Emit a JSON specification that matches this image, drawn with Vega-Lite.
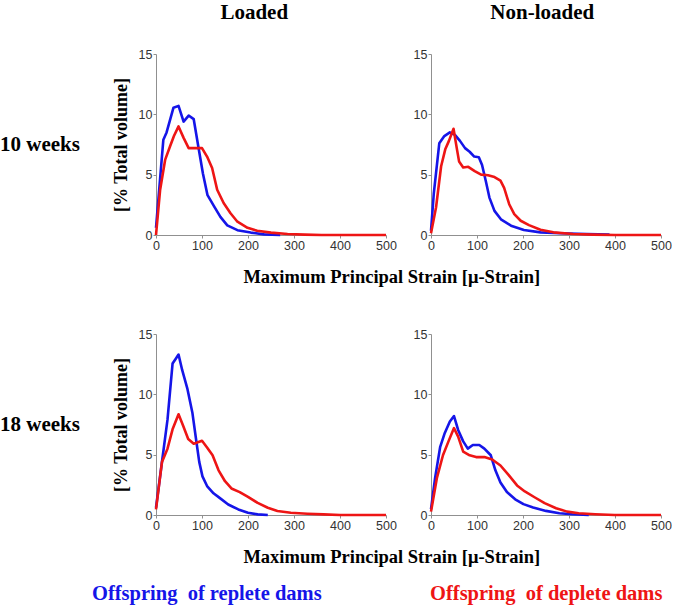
{
"$schema": "https://vega.github.io/schema/vega-lite/v6.json",
"padding": {"left": 0, "top": 2, "right": 0, "bottom": 0},
"background": "white",
"config": {
  "view": {"stroke": null},
  "axis": {"grid": false, "domainColor": "#909090", "domainWidth": 1, "tickColor": "#909090", "tickSize": 3, "labelColor": "#333333", "labelFont": "Liberation Sans", "labelFontSize": 12.5, "labelPadding": 1, "labelFlush": false, "labelOverlap": false, "titleFont": "Liberation Serif", "titleFontWeight": "bold", "titleFontSize": 18, "titleColor": "#000000", "titlePadding": 8},
  "title": {"font": "Liberation Serif", "fontWeight": "bold", "color": "#000000", "fontSize": 21},
  "line": {"strokeWidth": 2.6, "strokeJoin": "round"}
},
"datasets": {
  "curves": [
    {"age":"10 weeks","cond":"Loaded","group":"replete","strain":0,"vol":0.6},
    {"age":"10 weeks","cond":"Loaded","group":"replete","strain":16,"vol":7.9},
    {"age":"10 weeks","cond":"Loaded","group":"replete","strain":23,"vol":8.5},
    {"age":"10 weeks","cond":"Loaded","group":"replete","strain":38,"vol":10.55},
    {"age":"10 weeks","cond":"Loaded","group":"replete","strain":49,"vol":10.7},
    {"age":"10 weeks","cond":"Loaded","group":"replete","strain":60,"vol":9.4},
    {"age":"10 weeks","cond":"Loaded","group":"replete","strain":71,"vol":9.9},
    {"age":"10 weeks","cond":"Loaded","group":"replete","strain":82,"vol":9.6},
    {"age":"10 weeks","cond":"Loaded","group":"replete","strain":93,"vol":7.1},
    {"age":"10 weeks","cond":"Loaded","group":"replete","strain":102,"vol":5.1},
    {"age":"10 weeks","cond":"Loaded","group":"replete","strain":112,"vol":3.3},
    {"age":"10 weeks","cond":"Loaded","group":"replete","strain":126,"vol":2.4},
    {"age":"10 weeks","cond":"Loaded","group":"replete","strain":140,"vol":1.5},
    {"age":"10 weeks","cond":"Loaded","group":"replete","strain":155,"vol":0.8},
    {"age":"10 weeks","cond":"Loaded","group":"replete","strain":177,"vol":0.4},
    {"age":"10 weeks","cond":"Loaded","group":"replete","strain":206,"vol":0.2},
    {"age":"10 weeks","cond":"Loaded","group":"replete","strain":235,"vol":0.05},
    {"age":"10 weeks","cond":"Loaded","group":"replete","strain":270,"vol":0},
    {"age":"10 weeks","cond":"Loaded","group":"deplete","strain":0,"vol":0},
    {"age":"10 weeks","cond":"Loaded","group":"deplete","strain":9,"vol":3.75},
    {"age":"10 weeks","cond":"Loaded","group":"deplete","strain":20,"vol":6.25},
    {"age":"10 weeks","cond":"Loaded","group":"deplete","strain":31,"vol":7.4},
    {"age":"10 weeks","cond":"Loaded","group":"deplete","strain":39,"vol":8.2},
    {"age":"10 weeks","cond":"Loaded","group":"deplete","strain":49,"vol":9.0},
    {"age":"10 weeks","cond":"Loaded","group":"deplete","strain":60,"vol":8.05},
    {"age":"10 weeks","cond":"Loaded","group":"deplete","strain":71,"vol":7.2},
    {"age":"10 weeks","cond":"Loaded","group":"deplete","strain":85,"vol":7.2},
    {"age":"10 weeks","cond":"Loaded","group":"deplete","strain":100,"vol":7.2},
    {"age":"10 weeks","cond":"Loaded","group":"deplete","strain":111,"vol":6.5},
    {"age":"10 weeks","cond":"Loaded","group":"deplete","strain":122,"vol":5.55},
    {"age":"10 weeks","cond":"Loaded","group":"deplete","strain":133,"vol":3.75},
    {"age":"10 weeks","cond":"Loaded","group":"deplete","strain":147,"vol":2.65},
    {"age":"10 weeks","cond":"Loaded","group":"deplete","strain":162,"vol":1.8},
    {"age":"10 weeks","cond":"Loaded","group":"deplete","strain":177,"vol":1.1},
    {"age":"10 weeks","cond":"Loaded","group":"deplete","strain":199,"vol":0.6},
    {"age":"10 weeks","cond":"Loaded","group":"deplete","strain":220,"vol":0.35},
    {"age":"10 weeks","cond":"Loaded","group":"deplete","strain":250,"vol":0.2},
    {"age":"10 weeks","cond":"Loaded","group":"deplete","strain":286,"vol":0.08},
    {"age":"10 weeks","cond":"Loaded","group":"deplete","strain":323,"vol":0.03},
    {"age":"10 weeks","cond":"Loaded","group":"deplete","strain":360,"vol":0},
    {"age":"10 weeks","cond":"Loaded","group":"deplete","strain":500,"vol":0},
    {"age":"10 weeks","cond":"Non-loaded","group":"replete","strain":0,"vol":0.35},
    {"age":"10 weeks","cond":"Non-loaded","group":"replete","strain":6,"vol":3.4},
    {"age":"10 weeks","cond":"Non-loaded","group":"replete","strain":18,"vol":7.6},
    {"age":"10 weeks","cond":"Non-loaded","group":"replete","strain":29,"vol":8.2},
    {"age":"10 weeks","cond":"Non-loaded","group":"replete","strain":41,"vol":8.5},
    {"age":"10 weeks","cond":"Non-loaded","group":"replete","strain":52,"vol":8.3},
    {"age":"10 weeks","cond":"Non-loaded","group":"replete","strain":63,"vol":7.8},
    {"age":"10 weeks","cond":"Non-loaded","group":"replete","strain":74,"vol":7.2},
    {"age":"10 weeks","cond":"Non-loaded","group":"replete","strain":84,"vol":6.9},
    {"age":"10 weeks","cond":"Non-loaded","group":"replete","strain":94,"vol":6.5},
    {"age":"10 weeks","cond":"Non-loaded","group":"replete","strain":104,"vol":6.45},
    {"age":"10 weeks","cond":"Non-loaded","group":"replete","strain":111,"vol":5.8},
    {"age":"10 weeks","cond":"Non-loaded","group":"replete","strain":119,"vol":4.5},
    {"age":"10 weeks","cond":"Non-loaded","group":"replete","strain":127,"vol":3.1},
    {"age":"10 weeks","cond":"Non-loaded","group":"replete","strain":138,"vol":2.0},
    {"age":"10 weeks","cond":"Non-loaded","group":"replete","strain":152,"vol":1.3},
    {"age":"10 weeks","cond":"Non-loaded","group":"replete","strain":174,"vol":0.77},
    {"age":"10 weeks","cond":"Non-loaded","group":"replete","strain":202,"vol":0.41},
    {"age":"10 weeks","cond":"Non-loaded","group":"replete","strain":238,"vol":0.22},
    {"age":"10 weeks","cond":"Non-loaded","group":"replete","strain":281,"vol":0.14},
    {"age":"10 weeks","cond":"Non-loaded","group":"replete","strain":338,"vol":0.08},
    {"age":"10 weeks","cond":"Non-loaded","group":"replete","strain":388,"vol":0.03},
    {"age":"10 weeks","cond":"Non-loaded","group":"deplete","strain":0,"vol":0.14},
    {"age":"10 weeks","cond":"Non-loaded","group":"deplete","strain":11,"vol":2.3},
    {"age":"10 weeks","cond":"Non-loaded","group":"deplete","strain":22,"vol":5.7},
    {"age":"10 weeks","cond":"Non-loaded","group":"deplete","strain":31,"vol":7.1},
    {"age":"10 weeks","cond":"Non-loaded","group":"deplete","strain":39,"vol":7.8},
    {"age":"10 weeks","cond":"Non-loaded","group":"deplete","strain":49,"vol":8.8},
    {"age":"10 weeks","cond":"Non-loaded","group":"deplete","strain":56,"vol":7.2},
    {"age":"10 weeks","cond":"Non-loaded","group":"deplete","strain":61,"vol":6.1},
    {"age":"10 weeks","cond":"Non-loaded","group":"deplete","strain":70,"vol":5.6},
    {"age":"10 weeks","cond":"Non-loaded","group":"deplete","strain":81,"vol":5.65},
    {"age":"10 weeks","cond":"Non-loaded","group":"deplete","strain":95,"vol":5.3},
    {"age":"10 weeks","cond":"Non-loaded","group":"deplete","strain":109,"vol":5.0},
    {"age":"10 weeks","cond":"Non-loaded","group":"deplete","strain":124,"vol":4.95},
    {"age":"10 weeks","cond":"Non-loaded","group":"deplete","strain":138,"vol":4.8},
    {"age":"10 weeks","cond":"Non-loaded","group":"deplete","strain":151,"vol":4.5},
    {"age":"10 weeks","cond":"Non-loaded","group":"deplete","strain":159,"vol":3.9},
    {"age":"10 weeks","cond":"Non-loaded","group":"deplete","strain":170,"vol":2.55},
    {"age":"10 weeks","cond":"Non-loaded","group":"deplete","strain":181,"vol":1.73},
    {"age":"10 weeks","cond":"Non-loaded","group":"deplete","strain":195,"vol":1.18},
    {"age":"10 weeks","cond":"Non-loaded","group":"deplete","strain":213,"vol":0.82},
    {"age":"10 weeks","cond":"Non-loaded","group":"deplete","strain":238,"vol":0.44},
    {"age":"10 weeks","cond":"Non-loaded","group":"deplete","strain":266,"vol":0.22},
    {"age":"10 weeks","cond":"Non-loaded","group":"deplete","strain":309,"vol":0.08},
    {"age":"10 weeks","cond":"Non-loaded","group":"deplete","strain":352,"vol":0.03},
    {"age":"10 weeks","cond":"Non-loaded","group":"deplete","strain":400,"vol":0},
    {"age":"10 weeks","cond":"Non-loaded","group":"deplete","strain":500,"vol":0},
    {"age":"18 weeks","cond":"Loaded","group":"replete","strain":0,"vol":0.6},
    {"age":"18 weeks","cond":"Loaded","group":"replete","strain":14,"vol":4.7},
    {"age":"18 weeks","cond":"Loaded","group":"replete","strain":25,"vol":7.9},
    {"age":"18 weeks","cond":"Loaded","group":"replete","strain":36,"vol":12.55},
    {"age":"18 weeks","cond":"Loaded","group":"replete","strain":43,"vol":12.95},
    {"age":"18 weeks","cond":"Loaded","group":"replete","strain":49,"vol":13.3},
    {"age":"18 weeks","cond":"Loaded","group":"replete","strain":57,"vol":12.0},
    {"age":"18 weeks","cond":"Loaded","group":"replete","strain":68,"vol":10.5},
    {"age":"18 weeks","cond":"Loaded","group":"replete","strain":79,"vol":8.5},
    {"age":"18 weeks","cond":"Loaded","group":"replete","strain":87,"vol":6.3},
    {"age":"18 weeks","cond":"Loaded","group":"replete","strain":94,"vol":4.4},
    {"age":"18 weeks","cond":"Loaded","group":"replete","strain":101,"vol":3.2},
    {"age":"18 weeks","cond":"Loaded","group":"replete","strain":111,"vol":2.4},
    {"age":"18 weeks","cond":"Loaded","group":"replete","strain":125,"vol":1.8},
    {"age":"18 weeks","cond":"Loaded","group":"replete","strain":139,"vol":1.4},
    {"age":"18 weeks","cond":"Loaded","group":"replete","strain":157,"vol":0.87},
    {"age":"18 weeks","cond":"Loaded","group":"replete","strain":179,"vol":0.46},
    {"age":"18 weeks","cond":"Loaded","group":"replete","strain":200,"vol":0.19},
    {"age":"18 weeks","cond":"Loaded","group":"replete","strain":221,"vol":0.05},
    {"age":"18 weeks","cond":"Loaded","group":"replete","strain":243,"vol":0},
    {"age":"18 weeks","cond":"Loaded","group":"deplete","strain":0,"vol":0.46},
    {"age":"18 weeks","cond":"Loaded","group":"deplete","strain":13,"vol":4.4},
    {"age":"18 weeks","cond":"Loaded","group":"deplete","strain":25,"vol":5.5},
    {"age":"18 weeks","cond":"Loaded","group":"deplete","strain":36,"vol":7.1},
    {"age":"18 weeks","cond":"Loaded","group":"deplete","strain":49,"vol":8.35},
    {"age":"18 weeks","cond":"Loaded","group":"deplete","strain":59,"vol":7.4},
    {"age":"18 weeks","cond":"Loaded","group":"deplete","strain":70,"vol":6.3},
    {"age":"18 weeks","cond":"Loaded","group":"deplete","strain":82,"vol":5.9},
    {"age":"18 weeks","cond":"Loaded","group":"deplete","strain":100,"vol":6.15},
    {"age":"18 weeks","cond":"Loaded","group":"deplete","strain":111,"vol":5.6},
    {"age":"18 weeks","cond":"Loaded","group":"deplete","strain":123,"vol":4.95},
    {"age":"18 weeks","cond":"Loaded","group":"deplete","strain":136,"vol":3.7},
    {"age":"18 weeks","cond":"Loaded","group":"deplete","strain":150,"vol":2.8},
    {"age":"18 weeks","cond":"Loaded","group":"deplete","strain":164,"vol":2.2},
    {"age":"18 weeks","cond":"Loaded","group":"deplete","strain":182,"vol":1.9},
    {"age":"18 weeks","cond":"Loaded","group":"deplete","strain":200,"vol":1.5},
    {"age":"18 weeks","cond":"Loaded","group":"deplete","strain":221,"vol":1.0},
    {"age":"18 weeks","cond":"Loaded","group":"deplete","strain":243,"vol":0.6},
    {"age":"18 weeks","cond":"Loaded","group":"deplete","strain":264,"vol":0.33},
    {"age":"18 weeks","cond":"Loaded","group":"deplete","strain":293,"vol":0.19},
    {"age":"18 weeks","cond":"Loaded","group":"deplete","strain":329,"vol":0.11},
    {"age":"18 weeks","cond":"Loaded","group":"deplete","strain":364,"vol":0.05},
    {"age":"18 weeks","cond":"Loaded","group":"deplete","strain":400,"vol":0},
    {"age":"18 weeks","cond":"Loaded","group":"deplete","strain":500,"vol":0},
    {"age":"18 weeks","cond":"Non-loaded","group":"replete","strain":0,"vol":0.48},
    {"age":"18 weeks","cond":"Non-loaded","group":"replete","strain":9,"vol":3.1},
    {"age":"18 weeks","cond":"Non-loaded","group":"replete","strain":20,"vol":5.65},
    {"age":"18 weeks","cond":"Non-loaded","group":"replete","strain":30,"vol":6.8},
    {"age":"18 weeks","cond":"Non-loaded","group":"replete","strain":41,"vol":7.75},
    {"age":"18 weeks","cond":"Non-loaded","group":"replete","strain":50,"vol":8.2},
    {"age":"18 weeks","cond":"Non-loaded","group":"replete","strain":59,"vol":7.05},
    {"age":"18 weeks","cond":"Non-loaded","group":"replete","strain":70,"vol":6.1},
    {"age":"18 weeks","cond":"Non-loaded","group":"replete","strain":80,"vol":5.5},
    {"age":"18 weeks","cond":"Non-loaded","group":"replete","strain":91,"vol":5.8},
    {"age":"18 weeks","cond":"Non-loaded","group":"replete","strain":105,"vol":5.8},
    {"age":"18 weeks","cond":"Non-loaded","group":"replete","strain":116,"vol":5.5},
    {"age":"18 weeks","cond":"Non-loaded","group":"replete","strain":130,"vol":4.95},
    {"age":"18 weeks","cond":"Non-loaded","group":"replete","strain":140,"vol":3.7},
    {"age":"18 weeks","cond":"Non-loaded","group":"replete","strain":151,"vol":2.7},
    {"age":"18 weeks","cond":"Non-loaded","group":"replete","strain":165,"vol":1.9},
    {"age":"18 weeks","cond":"Non-loaded","group":"replete","strain":183,"vol":1.3},
    {"age":"18 weeks","cond":"Non-loaded","group":"replete","strain":201,"vol":0.9},
    {"age":"18 weeks","cond":"Non-loaded","group":"replete","strain":222,"vol":0.62},
    {"age":"18 weeks","cond":"Non-loaded","group":"replete","strain":250,"vol":0.34},
    {"age":"18 weeks","cond":"Non-loaded","group":"replete","strain":279,"vol":0.14},
    {"age":"18 weeks","cond":"Non-loaded","group":"replete","strain":307,"vol":0.06},
    {"age":"18 weeks","cond":"Non-loaded","group":"replete","strain":343,"vol":0},
    {"age":"18 weeks","cond":"Non-loaded","group":"deplete","strain":0,"vol":0.28},
    {"age":"18 weeks","cond":"Non-loaded","group":"deplete","strain":13,"vol":3.1},
    {"age":"18 weeks","cond":"Non-loaded","group":"deplete","strain":26,"vol":4.95},
    {"age":"18 weeks","cond":"Non-loaded","group":"deplete","strain":38,"vol":6.1},
    {"age":"18 weeks","cond":"Non-loaded","group":"deplete","strain":50,"vol":7.2},
    {"age":"18 weeks","cond":"Non-loaded","group":"deplete","strain":59,"vol":6.5},
    {"age":"18 weeks","cond":"Non-loaded","group":"deplete","strain":70,"vol":5.25},
    {"age":"18 weeks","cond":"Non-loaded","group":"deplete","strain":84,"vol":4.95},
    {"age":"18 weeks","cond":"Non-loaded","group":"deplete","strain":98,"vol":4.8},
    {"age":"18 weeks","cond":"Non-loaded","group":"deplete","strain":116,"vol":4.8},
    {"age":"18 weeks","cond":"Non-loaded","group":"deplete","strain":133,"vol":4.6},
    {"age":"18 weeks","cond":"Non-loaded","group":"deplete","strain":151,"vol":4.1},
    {"age":"18 weeks","cond":"Non-loaded","group":"deplete","strain":169,"vol":3.3},
    {"age":"18 weeks","cond":"Non-loaded","group":"deplete","strain":187,"vol":2.45},
    {"age":"18 weeks","cond":"Non-loaded","group":"deplete","strain":204,"vol":1.95},
    {"age":"18 weeks","cond":"Non-loaded","group":"deplete","strain":226,"vol":1.45},
    {"age":"18 weeks","cond":"Non-loaded","group":"deplete","strain":247,"vol":0.98},
    {"age":"18 weeks","cond":"Non-loaded","group":"deplete","strain":272,"vol":0.56},
    {"age":"18 weeks","cond":"Non-loaded","group":"deplete","strain":296,"vol":0.28},
    {"age":"18 weeks","cond":"Non-loaded","group":"deplete","strain":321,"vol":0.14},
    {"age":"18 weeks","cond":"Non-loaded","group":"deplete","strain":357,"vol":0.06},
    {"age":"18 weeks","cond":"Non-loaded","group":"deplete","strain":399,"vol":0},
    {"age":"18 weeks","cond":"Non-loaded","group":"deplete","strain":500,"vol":0}
  ],
  "legend": [
    {"group": "replete", "label": "Offspring\u00a0 of replete dams"},
    {"group": "deplete", "label": "Offspring\u00a0 of deplete dams"}
  ]
},
"spacing": 18,
"vconcat": [
  {
    "spacing": 42,
    "vconcat": [
      {
        "spacing": 32,
        "hconcat": [
          {"width": 80, "height": 181, "data": {"values": [{"label": "10 weeks"}]},
           "mark": {"type": "text", "font": "Liberation Serif", "fontWeight": "bold", "fontSize": 21, "color": "#000000"},
           "encoding": {"text": {"field": "label"}}},
          {
            "spacing": 16,
            "title": {"text": "Maximum Principal Strain [μ-Strain]", "orient": "bottom", "anchor": "middle", "frame": "bounds", "fontSize": 18.5, "offset": 16},
            "hconcat": [
              {"width": 230, "height": 181,
               "title": {"text": "Loaded", "frame": "bounds", "anchor": "middle", "baseline": "alphabetic", "offset": 8},
               "data": {"name": "curves"},
               "transform": [{"filter": "datum.age == '10 weeks' && datum.cond == 'Loaded'"}],
               "mark": {"type": "line"},
               "encoding": {
                 "x": {"field": "strain", "type": "quantitative", "scale": {"domain": [0, 500], "nice": false}, "axis": {"values": [0,100,200,300,400,500], "title": null}},
                 "y": {"field": "vol", "type": "quantitative", "scale": {"domain": [0, 15], "nice": false}, "axis": {"values": [0,5,10,15], "title": "[% Total volume]"}},
                 "color": {"field": "group", "type": "nominal", "scale": {"domain": ["replete","deplete"], "range": ["#1515e8","#ee1515"]}, "legend": null}
               }},
              {"width": 230, "height": 181,
               "title": {"text": "Non-loaded", "frame": "bounds", "anchor": "middle", "baseline": "alphabetic", "offset": 8},
               "data": {"name": "curves"},
               "transform": [{"filter": "datum.age == '10 weeks' && datum.cond == 'Non-loaded'"}],
               "mark": {"type": "line"},
               "encoding": {
                 "x": {"field": "strain", "type": "quantitative", "scale": {"domain": [0, 500], "nice": false}, "axis": {"values": [0,100,200,300,400,500], "title": null}},
                 "y": {"field": "vol", "type": "quantitative", "scale": {"domain": [0, 15], "nice": false}, "axis": {"values": [0,5,10,15], "title": null}},
                 "color": {"field": "group", "type": "nominal", "scale": {"domain": ["replete","deplete"], "range": ["#1515e8","#ee1515"]}, "legend": null}
               }}
            ]
          }
        ]
      },
      {
        "spacing": 32,
        "hconcat": [
          {"width": 80, "height": 181, "data": {"values": [{"label": "18 weeks"}]},
           "mark": {"type": "text", "font": "Liberation Serif", "fontWeight": "bold", "fontSize": 21, "color": "#000000"},
           "encoding": {"text": {"field": "label"}}},
          {
            "spacing": 16,
            "title": {"text": "Maximum Principal Strain [μ-Strain]", "orient": "bottom", "anchor": "middle", "frame": "bounds", "fontSize": 18.5, "offset": 16},
            "hconcat": [
              {"width": 230, "height": 181,
               "data": {"name": "curves"},
               "transform": [{"filter": "datum.age == '18 weeks' && datum.cond == 'Loaded'"}],
               "mark": {"type": "line"},
               "encoding": {
                 "x": {"field": "strain", "type": "quantitative", "scale": {"domain": [0, 500], "nice": false}, "axis": {"values": [0,100,200,300,400,500], "title": null}},
                 "y": {"field": "vol", "type": "quantitative", "scale": {"domain": [0, 15], "nice": false}, "axis": {"values": [0,5,10,15], "title": "[% Total volume]"}},
                 "color": {"field": "group", "type": "nominal", "scale": {"domain": ["replete","deplete"], "range": ["#1515e8","#ee1515"]}, "legend": null}
               }},
              {"width": 230, "height": 181,
               "data": {"name": "curves"},
               "transform": [{"filter": "datum.age == '18 weeks' && datum.cond == 'Non-loaded'"}],
               "mark": {"type": "line"},
               "encoding": {
                 "x": {"field": "strain", "type": "quantitative", "scale": {"domain": [0, 500], "nice": false}, "axis": {"values": [0,100,200,300,400,500], "title": null}},
                 "y": {"field": "vol", "type": "quantitative", "scale": {"domain": [0, 15], "nice": false}, "axis": {"values": [0,5,10,15], "title": null}},
                 "color": {"field": "group", "type": "nominal", "scale": {"domain": ["replete","deplete"], "range": ["#1515e8","#ee1515"]}, "legend": null}
               }}
            ]
          }
        ]
      }
    ]
  },
  {"width": 522, "height": 20,
   "data": {"name": "legend"},
   "mark": {"type": "text", "font": "Liberation Serif", "fontWeight": "bold", "fontSize": 20.5, "align": "left", "baseline": "middle"},
   "encoding": {
     "x": {"field": "group", "type": "nominal", "scale": {"type": "point", "domain": ["replete","deplete"], "padding": 0.272}, "axis": null},
     "text": {"field": "label"},
     "color": {"field": "group", "type": "nominal", "scale": {"domain": ["replete","deplete"], "range": ["#1515e8","#ee1515"]}, "legend": null}
   }}
]
}
